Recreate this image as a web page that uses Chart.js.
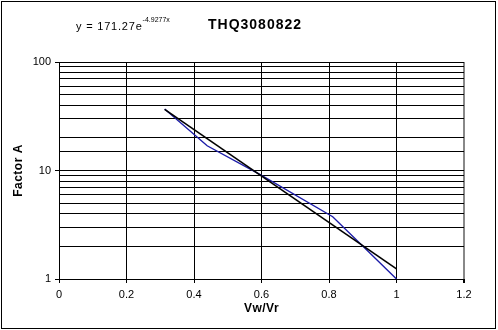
<!DOCTYPE html>
<html>
<head>
<meta charset="utf-8">
<script src="https://cdn.jsdelivr.net/npm/chart.js@4"></script>
<style>
  html, body { margin: 0; padding: 0; background: #fff; }
  canvas { display: block; }
</style>
</head>
<body>
<canvas id="chart" width="498" height="330"></canvas>
<script>
  // measured series (Vw/Vr vs Factor A)
  var seriesX = [0.313, 0.439, 0.595, 0.811, 1.0];
  var seriesY = [36.9, 16.9, 9.2, 3.75, 1.0];
  // exponential trendline end points (straight on a log axis)
  var trendX = [0.313, 1.0];
  var trendY = [36.6, 1.24];
  var xTicks = [0, 0.2, 0.4, 0.6, 0.8, 1, 1.2];
  var yLabels = [1, 10, 100];

  var FONT = "'Liberation Sans', Arial, sans-serif";

  function toPoints(xs, ys) {
    return xs.map(function (x, i) { return { x: x, y: ys[i] }; });
  }

  var textPlugin = {
    id: "excelText",
    afterDraw: function (chart) {
      var ctx = chart.ctx;
      var area = chart.chartArea;
      ctx.save();
      ctx.fillStyle = "#000";

      // title
      ctx.font = "bold 14px " + FONT;
      ctx.letterSpacing = "1px";
      ctx.textAlign = "center";
      ctx.textBaseline = "alphabetic";
      ctx.fillText("THQ3080822", 255, 29);

      // equation with superscript
      ctx.font = "11px " + FONT;
      ctx.letterSpacing = "0.8px";
      ctx.textAlign = "left";
      ctx.fillText("y = 171.27e", 76, 30);
      var w = ctx.measureText("y = 171.27e").width;
      ctx.font = "7px " + FONT;
      ctx.letterSpacing = "0px";
      ctx.fillText("-4.9277x", 76 + w, 22);

      // axis titles
      ctx.font = "bold 12px " + FONT;
      ctx.letterSpacing = "0.5px";
      ctx.textAlign = "center";
      ctx.textBaseline = "middle";
      ctx.fillText("Vw/Vr", (area.left + area.right) / 2, 309);
      ctx.translate(19, (area.top + area.bottom) / 2);
      ctx.rotate(-Math.PI / 2);
      ctx.fillText("Factor A", 0, 0);
      ctx.restore();

      // outer frame
      ctx.save();
      ctx.strokeStyle = "#000";
      ctx.lineWidth = 1;
      ctx.strokeRect(1.5, 1.5, 494, 327);
      ctx.restore();
    }
  };

  new Chart(document.getElementById("chart"), {
    type: "line",
    data: {
      datasets: [
        {
          label: "trend",
          data: toPoints(trendX, trendY),
          borderColor: "#000",
          borderWidth: 1.6,
          pointRadius: 0,
          tension: 0,
          order: 0,
        },
        {
          label: "THQ3080822",
          data: toPoints(seriesX, seriesY),
          borderColor: "#1c1ca8",
          borderWidth: 1.4,
          pointRadius: 0,
          tension: 0,
          order: 1,
        },
      ],
    },
    options: {
      responsive: false,
      animation: false,
      layout: { padding: { left: 0, right: 34, top: 62, bottom: 0 } },
      plugins: {
        legend: { display: false },
        tooltip: { enabled: false },
      },
      scales: {
        x: {
          type: "linear",
          min: 0,
          max: 1.2,
          afterBuildTicks: function (scale) {
            scale.ticks = xTicks.map(function (v) { return { value: v }; });
          },
          afterFit: function (scale) { scale.height = 51; },
          grid: {
            color: function (c) { return c.tick && c.tick.value === 1.2 ? "#888" : "#000"; },
            lineWidth: function (c) { return c.tick && c.tick.value === 1.2 ? 2 : 1; },
            tickColor: "#000",
            tickLength: 4,
          },
          border: { color: "#000", width: 1 },
          ticks: {
            color: "#000",
            font: { family: FONT, size: 11 },
            padding: 5,
            maxRotation: 0,
            autoSkip: false,
            callback: function (v) { return String(v); },
          },
        },
        y: {
          type: "logarithmic",
          min: 1,
          max: 100,
          afterFit: function (scale) { scale.width = 59; },
          grid: {
            color: "#000",
            lineWidth: 1,
            tickColor: function (c) {
              return c.tick && yLabels.indexOf(c.tick.value) >= 0 ? "#000" : "rgba(0,0,0,0)";
            },
            tickLength: 4,
          },
          border: { color: "#000", width: 1 },
          ticks: {
            color: "#000",
            font: { family: FONT, size: 11 },
            padding: 4,
            autoSkip: false,
            callback: function (v) { return yLabels.indexOf(v) >= 0 ? String(v) : ""; },
          },
        },
      },
    },
    plugins: [textPlugin],
  });
</script>
</body>
</html>
